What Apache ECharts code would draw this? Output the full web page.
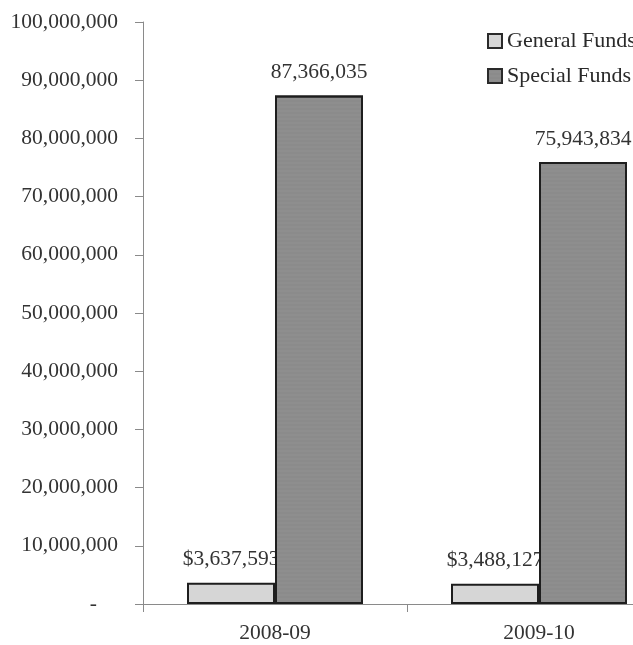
<!DOCTYPE html>
<html>
<head>
<meta charset="utf-8">
<script src="https://cdn.jsdelivr.net/npm/echarts@6/dist/echarts.min.js"></script>
<style>
  html, body { margin: 0; padding: 0; background: #ffffff; overflow: hidden; }
  /* the plot area runs past the right edge of the page */
  #chart { width: 671px; height: 645px; }
</style>
</head>
<body>
<div id="chart"></div>
<script>
// Fiscal years on the category axis
const years = ['2008-09', '2009-10'];
// Funding amounts by source
const generalFunds = [3637593, 3488127];
const specialFunds = [87366035, 75943834];
// Value-axis tick labels, bottom to top
const yTickLabels = ['-', '10,000,000', '20,000,000', '30,000,000', '40,000,000',
  '50,000,000', '60,000,000', '70,000,000', '80,000,000', '90,000,000', '100,000,000'];

const FONT = '"Liberation Serif", "DejaVu Serif", serif';
const FS = 21.5;
const fmt = v => v.toLocaleString('en-US');

const chart = echarts.init(document.getElementById('chart'), null, { renderer: 'canvas' });

chart.setOption({
  backgroundColor: '#ffffff',
  animation: false,
  textStyle: { fontFamily: FONT },
  legend: {
    orient: 'vertical',
    left: 487,
    top: 30,
    padding: 0,
    icon: 'rect',
    itemWidth: 14,
    itemHeight: 14,
    itemGap: 13,
    textStyle: { fontFamily: FONT, fontSize: 22, color: '#2a2a2a', lineHeight: 22 },
    data: [
      { name: 'General Funds', itemStyle: { color: '#d6d6d6', borderColor: '#2a2a2a', borderWidth: 2 } },
      { name: 'Special Funds', itemStyle: { color: '#8e8e8e', borderColor: '#2a2a2a', borderWidth: 2 } }
    ]
  },
  grid: { left: 143, top: 22, right: 0, bottom: 41, containLabel: false },
  xAxis: {
    type: 'category',
    data: years,
    axisLine: { lineStyle: { color: '#8a8a8a', width: 1 } },
    axisTick: { show: true, length: 8, lineStyle: { color: '#8a8a8a' } },
    axisLabel: { fontFamily: FONT, fontSize: FS, color: '#333333', margin: 18 }
  },
  yAxis: {
    type: 'value',
    min: 0,
    max: 100000000,
    interval: 10000000,
    splitLine: { show: false },
    axisLine: { show: true, lineStyle: { color: '#8a8a8a', width: 1 } },
    axisTick: { show: true, length: 8, lineStyle: { color: '#8a8a8a' } },
    axisLabel: {
      fontFamily: FONT, fontSize: FS, color: '#333333', margin: 25,
      formatter: (v, i) => i === 0 ? '{z|' + yTickLabels[0] + '}' : yTickLabels[i],
      rich: { z: { fontFamily: FONT, fontSize: FS, color: '#333333', padding: [0, 21, 0, 0] } }
    }
  },
  series: [
    {
      name: 'General Funds',
      type: 'bar',
      data: generalFunds,
      barWidth: 88,
      barGap: '0%',
      itemStyle: { color: '#d6d6d6', borderColor: '#1e1e1e', borderWidth: 2 },
      label: {
        show: true, position: 'top', distance: 12,
        fontFamily: FONT, fontSize: FS, color: '#333333',
        formatter: p => '$' + fmt(p.value)
      },
      z: 2
    },
    {
      name: 'Special Funds',
      type: 'bar',
      data: specialFunds,
      barWidth: 88,
      itemStyle: {
        color: '#8e8e8e', borderColor: '#1e1e1e', borderWidth: 2,
        decal: { symbol: 'rect', symbolSize: 0.4, dashArrayX: [1, 0], dashArrayY: [2, 2], color: 'rgba(110,110,110,0.35)', rotation: 0 }
      },
      label: {
        show: true, position: 'top', distance: 12,
        fontFamily: FONT, fontSize: FS, color: '#333333',
        formatter: p => fmt(p.value)
      },
      z: 3
    }
  ]
});
</script>
</body>
</html>
